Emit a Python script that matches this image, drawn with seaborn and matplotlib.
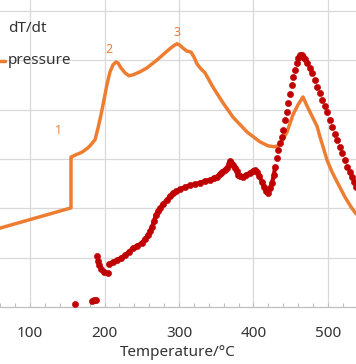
import matplotlib
matplotlib.use("Agg")
import matplotlib.pyplot as plt
from matplotlib.lines import Line2D
import seaborn as sns
import pandas as pd

# ---- data -------------------------------------------------------------
pressure_T = [59.7, 155.0, 155.0, 160.4, 169.8, 177.9, 180.5, 187.2, 191.3, 195.3,
              199.3, 203.4, 207.4, 211.4, 215.4, 218.1, 222.1, 227.5, 232.9, 238.3,
              247.7, 257.0, 270.5, 283.9, 292.0, 297.3, 301.3, 305.4, 310.7, 316.1,
              320.1, 324.2, 329.5, 334.9, 345.6, 359.1, 372.5, 391.3, 408.7, 419.5,
              427.5, 432.9, 438.3, 445.0, 453.0, 459.7, 466.4, 471.8, 479.9, 485.2,
              489.3, 494.6, 498.7, 505.4, 512.1, 522.8, 530.9, 537.6]
pressure_V = [1.60, 2.01, 3.04, 3.08, 3.14, 3.23, 3.27, 3.39, 3.63, 3.90,
              4.20, 4.52, 4.77, 4.91, 4.97, 4.95, 4.85, 4.75, 4.69, 4.71,
              4.77, 4.85, 5.01, 5.19, 5.29, 5.34, 5.31, 5.25, 5.19, 5.17,
              5.07, 4.93, 4.83, 4.75, 4.46, 4.14, 3.85, 3.55, 3.35, 3.27,
              3.25, 3.27, 3.37, 3.55, 3.90, 4.10, 4.26, 4.08, 3.83, 3.67,
              3.45, 3.19, 2.98, 2.74, 2.54, 2.23, 2.03, 1.89]

dtdt_T = [160.4, 183.2, 185.9, 188.6,
          189.9, 191.3, 192.6, 195.3, 199.3, 204.7,
          206.0, 211.4, 216.8, 222.1, 227.5, 232.9, 238.3, 243.6, 250.3, 254.4,
          258.4, 261.1, 263.8, 266.4, 269.1, 271.8, 274.5, 278.5, 283.9, 287.9,
          292.0, 296.0, 301.3, 308.1, 314.8, 321.5, 328.2, 334.9, 341.6, 347.0,
          351.0, 355.0, 357.7, 361.7, 364.4, 367.1, 368.5, 369.8, 372.5, 375.2,
          377.9, 379.2, 381.9, 385.9, 389.9, 395.3, 399.3, 402.0, 404.7, 407.4,
          411.4, 414.1, 416.8, 419.5, 422.2, 424.8, 427.5, 428.9, 431.5, 432.9,
          435.6, 438.3, 439.6, 442.3, 445.0, 446.3, 449.0, 451.7, 453.0, 455.7,
          458.4, 459.7, 462.4, 465.1, 466.4, 469.1, 471.8, 475.8, 478.5, 482.6,
          485.2, 489.3, 491.9, 496.0, 498.7, 502.7, 505.4, 509.4, 512.1, 516.1,
          518.8, 522.8, 525.5, 529.5, 532.2, 534.9, 537.6]
dtdt_V = [0.06, 0.12, 0.14, 0.14,
          1.03, 0.93, 0.85, 0.77, 0.71, 0.69,
          0.87, 0.91, 0.95, 0.99, 1.05, 1.12, 1.20, 1.24, 1.30, 1.38,
          1.46, 1.54, 1.62, 1.74, 1.87, 1.95, 2.01, 2.09, 2.17, 2.25,
          2.31, 2.35, 2.39, 2.43, 2.47, 2.49, 2.52, 2.56, 2.58, 2.62,
          2.64, 2.70, 2.74, 2.78, 2.82, 2.90, 2.96, 2.92, 2.88, 2.82,
          2.76, 2.68, 2.66, 2.64, 2.68, 2.72, 2.76, 2.78, 2.74, 2.66,
          2.54, 2.43, 2.35, 2.31, 2.41, 2.52, 2.68, 2.84, 3.02, 3.18,
          3.33, 3.45, 3.59, 3.79, 3.96, 4.14, 4.32, 4.50, 4.67, 4.81,
          4.95, 5.05, 5.11, 5.11, 5.07, 5.03, 4.95, 4.85, 4.75, 4.60,
          4.46, 4.34, 4.20, 4.08, 3.96, 3.79, 3.65, 3.51, 3.39, 3.25,
          3.12, 2.98, 2.84, 2.74, 2.64, 2.54, 2.43]

stage_labels = ["1", "2", "3"]
stage_T = [137.6, 206.0, 297.3]
stage_V = [3.59, 5.23, 5.56]

series_names = ["dT/dt", "pressure"]
x_title = "Temperature/°C"
x_ticks = [100, 200, 300, 400, 500]

# ---- style ------------------------------------------------------------
sns.set_theme(style="white")
plt.rcParams["font.family"] = ["Noto Sans", "DejaVu Sans"]
TXT = "#333333"
ORANGE = "#ED7D31"
RED = "#C00000"
GRID = "#D9D9D9"
FS = 11

fig = plt.figure(figsize=(3.56, 3.64), dpi=100)
ax = fig.add_axes([0.0, 57 / 364, 1.0, 307 / 364])

df_p = pd.DataFrame({"T": pressure_T, "V": pressure_V})
df_d = pd.DataFrame({"T": dtdt_T, "V": dtdt_V})
dense = df_d[(df_d["T"] >= 206) & (df_d["T"] <= 429)]

sns.lineplot(data=df_p, x="T", y="V", sort=False, estimator=None, ax=ax,
             color=ORANGE, linewidth=2.5, zorder=3, solid_capstyle="round",
             solid_joinstyle="round")
sns.lineplot(data=dense, x="T", y="V", sort=False, estimator=None, ax=ax,
             color=RED, linewidth=3.0, zorder=4, solid_capstyle="round",
             solid_joinstyle="round")
sns.scatterplot(data=df_d, x="T", y="V", ax=ax, color=RED, s=20,
                edgecolor=RED, linewidth=0.4, zorder=5)

for lab, t, v in zip(stage_labels, stage_T, stage_V):
    ax.text(t, v, lab, color=ORANGE, fontsize=9, ha="center", va="center")

ax.set_xlim(59.7, 537.6)
ax.set_ylim(0, 6.227)
ax.set_xticks(x_ticks)
ax.set_xticks(range(60, 540, 20), minor=True)
ax.set_yticks([1, 2, 3, 4, 5, 6])
ax.set_yticklabels([])
ax.grid(True, which="major", color=GRID, linewidth=0.9)
ax.set_axisbelow(True)
for s in ["left", "right", "top"]:
    ax.spines[s].set_visible(False)
ax.spines["bottom"].set_color("#BFBFBF")
ax.spines["bottom"].set_linewidth(0.9)
ax.tick_params(axis="x", which="both", direction="in", length=3, width=0.8,
               color="#BFBFBF", labelsize=FS, labelcolor=TXT, pad=14,
               bottom=True)
ax.tick_params(axis="y", which="both", left=False, length=0)
ax.set_xlabel(x_title, fontsize=FS, color=TXT, labelpad=2.5)
ax.set_ylabel("")
if ax.get_legend() is not None:
    ax.get_legend().remove()

# legend (cropped on the left like the reference)
fig.text(8 / 356, 1 - 28 / 364, series_names[0], fontsize=FS, color=TXT,
         ha="left", va="center")
fig.text(8 / 356, 1 - 61 / 364, series_names[1], fontsize=FS, color=TXT,
         ha="left", va="center")
fig.add_artist(Line2D([-0.02, 5 / 356], [1 - 61 / 364, 1 - 61 / 364],
                      transform=fig.transFigure, color=ORANGE, linewidth=2.5))

fig.savefig("out.png", dpi=100)
